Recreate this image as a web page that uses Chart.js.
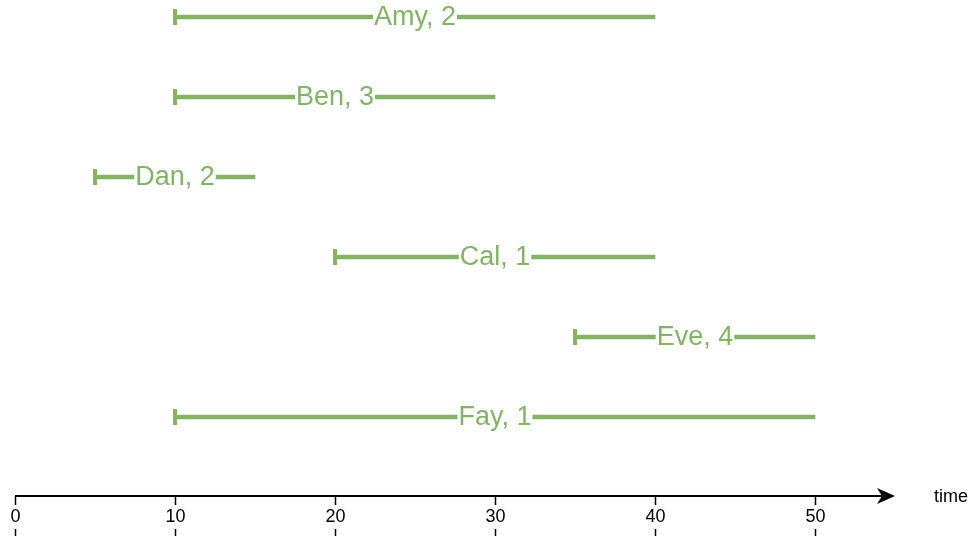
<!DOCTYPE html>
<html>
<head>
<meta charset="utf-8">
<script src="https://cdn.jsdelivr.net/npm/chart.js@4/dist/chart.umd.min.js"></script>
<style>
html,body{margin:0;padding:0;background:#fff;}
#wrap{width:976px;height:540px;position:relative;}
</style>
</head>
<body>
<div id="wrap"><canvas id="c" width="976" height="540"></canvas></div>
<script>
const names = ["Amy", "Ben", "Dan", "Cal", "Eve", "Fay"];
const counts = [2, 3, 2, 1, 4, 1];
const starts = [10, 10, 5, 20, 35, 10];
const ends = [40, 30, 15, 40, 50, 50];
const xTicks = [0, 10, 20, 30, 40, 50];
const xMax = 55;
const axisTitle = "time";

const GREEN = '#82b366';

const intervalPlugin = {
  id: 'intervals',
  afterDatasetsDraw(chart) {
    const ctx = chart.ctx;
    const meta = chart.getDatasetMeta(0);
    const xs = chart.scales.x;
    ctx.save();
    meta.data.forEach((bar, i) => {
      const x0 = xs.getPixelForValue(starts[i]);
      const x1 = xs.getPixelForValue(ends[i]);
      const y = bar.y;
      // start tick
      ctx.fillStyle = GREEN;
      ctx.fillRect(x0 - 2, y - 8, 4, 16);
      // label
      const label = names[i] + ', ' + counts[i];
      ctx.font = '27px "Liberation Sans", Arial, sans-serif';
      const w = ctx.measureText(label).width;
      const cx = (x0 + x1) / 2;
      ctx.fillStyle = '#ffffff';
      ctx.fillRect(cx - w / 2 - 1, y - 14, w + 2, 28);
      ctx.fillStyle = GREEN;
      ctx.textAlign = 'center';
      ctx.textBaseline = 'middle';
      ctx.fillText(label, cx, y + 1);
    });
    // x axis with arrow
    const ay = 496;
    const left = xs.getPixelForValue(0);
    const tip = xs.getPixelForValue(xMax);
    ctx.strokeStyle = '#000';
    ctx.lineWidth = 2;
    ctx.beginPath();
    ctx.moveTo(left, ay);
    ctx.lineTo(tip - 10, ay);
    ctx.stroke();
    ctx.fillStyle = '#000';
    ctx.beginPath();
    ctx.moveTo(tip, ay);
    ctx.lineTo(tip - 18, ay - 8);
    ctx.lineTo(tip - 13, ay);
    ctx.lineTo(tip - 18, ay + 8);
    ctx.closePath();
    ctx.fill();
    // ticks and labels
    ctx.font = '18px "Liberation Sans", Arial, sans-serif';
    ctx.textAlign = 'center';
    ctx.textBaseline = 'middle';
    ctx.lineWidth = 1.5;
    xTicks.forEach(v => {
      const px = Math.round(xs.getPixelForValue(v)) + 0.5;
      ctx.beginPath();
      ctx.moveTo(px, ay);
      ctx.lineTo(px, 505);
      ctx.moveTo(px, 529);
      ctx.lineTo(px, 536);
      ctx.stroke();
      ctx.fillText(String(v), px, 517);
    });
    ctx.textAlign = 'left';
    ctx.fillText(axisTitle, 934, 497);
    ctx.restore();
  }
};

new Chart(document.getElementById('c'), {
  type: 'bar',
  data: {
    labels: names,
    datasets: [{
      data: starts.map((s, i) => [s, ends[i]]),
      backgroundColor: GREEN,
      borderWidth: 0,
      borderSkipped: false,
      barThickness: 4,
      clip: false
    }]
  },
  options: {
    indexAxis: 'y',
    responsive: false,
    animation: false,
    devicePixelRatio: 1,
    layout: { padding: { left: 15, right: 81, top: 17, bottom: 123 } },
    plugins: { legend: { display: false }, tooltip: { enabled: false } },
    scales: {
      x: { type: 'linear', min: 0, max: xMax, display: false },
      y: { type: 'category', offset: false, display: false }
    }
  },
  plugins: [intervalPlugin]
});
</script>
</body>
</html>
